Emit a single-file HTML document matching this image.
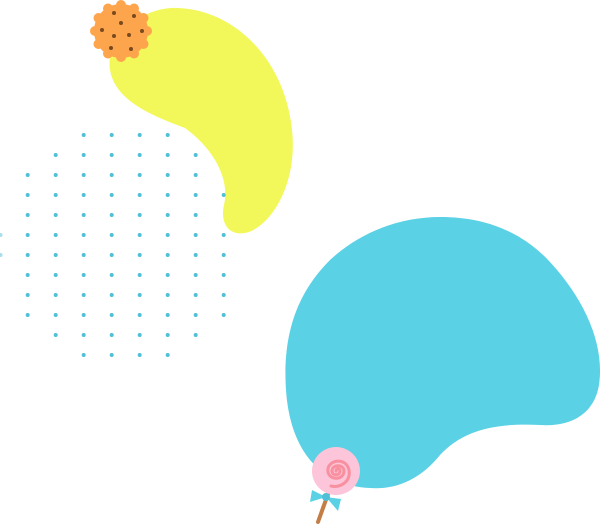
<!DOCTYPE html>
<html><head><style>html,body{margin:0;padding:0;background:#fff;width:601px;height:526px;overflow:hidden}</style></head>
<body>
<svg width="601" height="526" viewBox="0 0 601 526" xmlns="http://www.w3.org/2000/svg">
<g fill="#4fc0d6">
<g id="r"></g>
</g>
<path d="M178,8 C235,10 285,60 292,130 C298,185 270,228 245,233 C228,236 220,222 224,205 C230,180 215,150 185,128 C150,115 115,100 110,70 C105,40 140,6 178,8 Z" fill="#f2f85a"/>
<g fill="#4fc0d6">
<circle cx="83.7" cy="135" r="2"/><circle cx="111.7" cy="135" r="2"/><circle cx="139.7" cy="135" r="2"/><circle cx="167.7" cy="135" r="2"/>
<circle cx="55.7" cy="155" r="2"/><circle cx="83.7" cy="155" r="2"/><circle cx="111.7" cy="155" r="2"/><circle cx="139.7" cy="155" r="2"/><circle cx="167.7" cy="155" r="2"/><circle cx="195.7" cy="155" r="2"/>
<circle cx="27.7" cy="175" r="2"/><circle cx="55.7" cy="175" r="2"/><circle cx="83.7" cy="175" r="2"/><circle cx="111.7" cy="175" r="2"/><circle cx="139.7" cy="175" r="2"/><circle cx="167.7" cy="175" r="2"/><circle cx="195.7" cy="175" r="2"/>
</g>
<g fill="#4fc0d6">
<script>/*static*/</script>
</g>
<g fill="#4fc0d6">
<circle cx="27.7" cy="195" r="2"/><circle cx="55.7" cy="195" r="2"/><circle cx="83.7" cy="195" r="2"/><circle cx="111.7" cy="195" r="2"/><circle cx="139.7" cy="195" r="2"/><circle cx="167.7" cy="195" r="2"/><circle cx="195.7" cy="195" r="2"/><circle cx="223.7" cy="195" r="2"/>
<circle cx="27.7" cy="215" r="2"/><circle cx="55.7" cy="215" r="2"/><circle cx="83.7" cy="215" r="2"/><circle cx="111.7" cy="215" r="2"/><circle cx="139.7" cy="215" r="2"/><circle cx="167.7" cy="215" r="2"/><circle cx="195.7" cy="215" r="2"/>
<circle cx="0.5" cy="235" r="2" opacity=".5"/><circle cx="27.7" cy="235" r="2"/><circle cx="55.7" cy="235" r="2"/><circle cx="83.7" cy="235" r="2"/><circle cx="111.7" cy="235" r="2"/><circle cx="139.7" cy="235" r="2"/><circle cx="167.7" cy="235" r="2"/><circle cx="195.7" cy="235" r="2"/><circle cx="223.7" cy="235" r="2"/>
<circle cx="0.5" cy="255" r="2" opacity=".5"/><circle cx="27.7" cy="255" r="2"/><circle cx="55.7" cy="255" r="2"/><circle cx="83.7" cy="255" r="2"/><circle cx="111.7" cy="255" r="2"/><circle cx="139.7" cy="255" r="2"/><circle cx="167.7" cy="255" r="2"/><circle cx="195.7" cy="255" r="2"/><circle cx="223.7" cy="255" r="2"/>
<circle cx="27.7" cy="275" r="2"/><circle cx="55.7" cy="275" r="2"/><circle cx="83.7" cy="275" r="2"/><circle cx="111.7" cy="275" r="2"/><circle cx="139.7" cy="275" r="2"/><circle cx="167.7" cy="275" r="2"/><circle cx="195.7" cy="275" r="2"/><circle cx="223.7" cy="275" r="2"/>
<circle cx="27.7" cy="295" r="2"/><circle cx="55.7" cy="295" r="2"/><circle cx="83.7" cy="295" r="2"/><circle cx="111.7" cy="295" r="2"/><circle cx="139.7" cy="295" r="2"/><circle cx="167.7" cy="295" r="2"/><circle cx="195.7" cy="295" r="2"/><circle cx="223.7" cy="295" r="2"/>
<circle cx="27.7" cy="315" r="2"/><circle cx="55.7" cy="315" r="2"/><circle cx="83.7" cy="315" r="2"/><circle cx="111.7" cy="315" r="2"/><circle cx="139.7" cy="315" r="2"/><circle cx="167.7" cy="315" r="2"/><circle cx="195.7" cy="315" r="2"/><circle cx="223.7" cy="315" r="2"/>
<circle cx="55.7" cy="335" r="2"/><circle cx="83.7" cy="335" r="2"/><circle cx="111.7" cy="335" r="2"/><circle cx="139.7" cy="335" r="2"/><circle cx="167.7" cy="335" r="2"/><circle cx="195.7" cy="335" r="2"/>
<circle cx="83.7" cy="355" r="2"/><circle cx="111.7" cy="355" r="2"/><circle cx="139.7" cy="355" r="2"/><circle cx="167.7" cy="355" r="2"/>
</g>
<path d="M440,217 C490,217 525,235 550,262 C585,300 605,345 599,385 C594,415 570,427 540,425 C500,423 465,428 440,455 C420,480 395,490 370,488 C320,486 290,450 286,390 C282,330 300,290 330,260 C360,232 400,217 440,217 Z" fill="#5bd1e5"/>
<!-- cookie -->
<g fill="#fda54d">
<circle cx="121" cy="31" r="27"/>
<circle cx="121" cy="5" r="5"/><circle cx="134" cy="8.5" r="5"/><circle cx="143.5" cy="18" r="5"/><circle cx="147" cy="31" r="5"/><circle cx="143.5" cy="44" r="5"/><circle cx="134" cy="53.5" r="5"/><circle cx="121" cy="57" r="5"/><circle cx="108" cy="53.5" r="5"/><circle cx="98.5" cy="44" r="5"/><circle cx="95" cy="31" r="5"/><circle cx="98.5" cy="18" r="5"/><circle cx="108" cy="8.5" r="5"/>
</g>
<g fill="#7a4a1e">
<circle cx="114" cy="13" r="2"/><circle cx="134" cy="16" r="2"/><circle cx="121" cy="23" r="2"/><circle cx="102" cy="30" r="2"/><circle cx="114" cy="36" r="2"/><circle cx="129" cy="35" r="2"/><circle cx="142" cy="31" r="2"/><circle cx="111" cy="48" r="2"/><circle cx="131" cy="49" r="2"/>
</g>
<!-- lollipop -->
<line x1="328" y1="494" x2="318" y2="522" stroke="#c47d45" stroke-width="4" stroke-linecap="round"/>
<path d="M326,497 L312,490 L310,502 Z M326,497 L341,499 L338,511 Z" fill="#5bd1e5"/>
<circle cx="326" cy="497" r="4" fill="#4fc0d6"/>
<circle cx="336" cy="471" r="24" fill="#fcc5d9"/>
<path d="M336,471 C336,468 340,468 340,471 C340,476 332,476 332,471 C332,464 344,464 344,471 C344,480 330,481 328,472 C326,460 346,456 349,470 C351,482 340,488 331,486" fill="none" stroke="#f8909f" stroke-width="3" stroke-linecap="round"/>
</svg>
</body></html>
